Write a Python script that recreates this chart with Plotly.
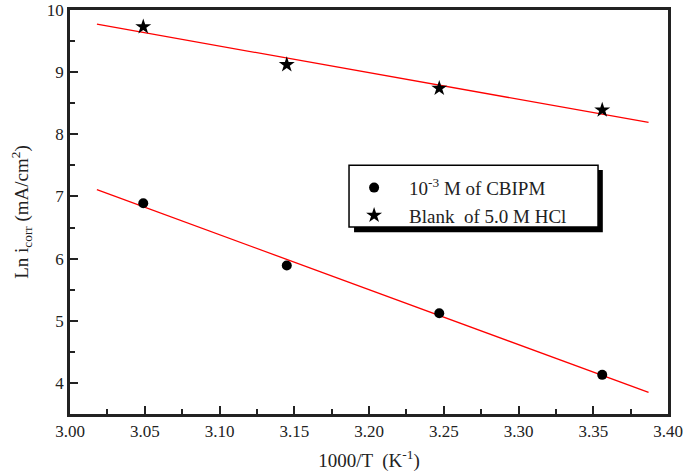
import numpy as np
import plotly.graph_objects as go

x_vals = [3.049, 3.145, 3.247, 3.356]
cbipm = [6.89, 5.89, 5.12, 4.13]
blank = [9.73, 9.12, 8.74, 8.39]
fit_range = [3.018, 3.387]
x_ticks = [3.00, 3.05, 3.10, 3.15, 3.20, 3.25, 3.30, 3.35, 3.40]
y_ticks = [4, 5, 6, 7, 8, 9, 10]

FONT = "Liberation Serif, Times New Roman, serif"

fig = go.Figure()

for ys in (blank, cbipm):
    p = np.polyfit(x_vals, ys, 1)
    xf = np.array(fit_range)
    fig.add_trace(go.Scatter(x=xf, y=np.polyval(p, xf), mode="lines",
                             line=dict(color="#ff0000", width=1.3), showlegend=False,
                             hoverinfo="skip"))

fig.add_trace(go.Scatter(x=x_vals, y=cbipm, mode="markers", name="10<sup>-3</sup> M of CBIPM",
                         marker=dict(symbol="circle", size=10, color="black")))
fig.add_trace(go.Scatter(x=x_vals, y=blank, mode="markers", name="Blank  of 5.0 M HCl",
                         marker=dict(symbol="star", size=12, color="black")))

axis_common = dict(showline=True, linecolor="#222", linewidth=2.5, mirror=True,
                   ticks="inside", ticklen=8, tickwidth=2, tickcolor="#222",
                   showgrid=False, zeroline=False, automargin=False,
                   tickfont=dict(family=FONT, size=17, color="#222"))

fig.update_xaxes(range=[3.0, 3.4], tickvals=x_ticks, ticktext=[f"{v:.2f}" for v in x_ticks],
                 minor=dict(ticks="inside", ticklen=5, tickwidth=2, tickcolor="#222", dtick=0.025),
                 title=dict(text="1000/T  (K<sup>-1</sup>)", font=dict(family=FONT, size=19, color="#222"),
                            standoff=14),
                 **axis_common)
fig.update_yaxes(range=[3.5, 10], tickvals=y_ticks,
                 minor=dict(ticks="inside", ticklen=5, tickwidth=2, tickcolor="#222", dtick=0.5),
                 title=dict(text="Ln i<sub>corr</sub> (mA/cm<sup>2</sup>)", font=dict(family=FONT, size=19, color="#222"),
                            standoff=14),
                 **axis_common)

# legend box with shadow (paper coords)
fig.add_shape(type="rect", xref="paper", yref="paper", x0=0.475, x1=0.891, y0=0.450, y1=0.604,
              fillcolor="black", line=dict(width=0), layer="above")
fig.add_shape(type="rect", xref="paper", yref="paper", x0=0.4666, x1=0.883, y0=0.463, y1=0.616,
              fillcolor="white", line=dict(color="black", width=1.5), layer="above")

fig.update_layout(
    width=685, height=476,
    margin=dict(l=70, r=17, t=10, b=62),
    paper_bgcolor="white", plot_bgcolor="white",
    showlegend=True,
    legend=dict(x=0.45, y=0.607, xanchor="left", yanchor="top", bgcolor="rgba(0,0,0,0)",
                borderwidth=0, font=dict(family=FONT, size=19, color="#222"),
                tracegroupgap=0, itemsizing="trace", itemwidth=60),
)

fig.write_html("out.html", config={"displayModeBar": False},
               post_script="document.body.style.margin='0';document.body.style.overflow='hidden';")
